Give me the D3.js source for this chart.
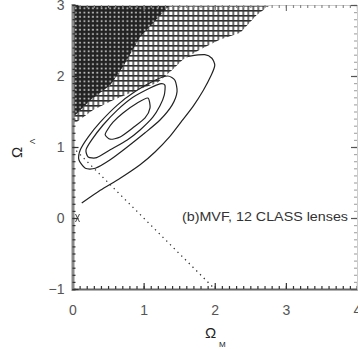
<!DOCTYPE html>
<html><head><meta charset="utf-8">
<script src="https://cdn.jsdelivr.net/npm/d3@7"></script>
<style>html,body{margin:0;padding:0;background:#fff;}svg{display:block;}</style>
</head><body>
<script>
// ---- data (Ω_M, Ω_Λ) ----
const xTicks = [0, 1, 2, 3, 4];
const yTicks = [-1, 0, 1, 2, 3];
const xTickLabels = ["0", "1", "2", "3", "4"];
const yTickLabels = ["\u22121", "0", "1", "2", "3"];
// excluded (no big bang) region boundary
const hatchBoundary = [[0,1.31],[0.29,1.52],[0.57,1.66],[0.81,1.76],[0.99,1.83],[1.19,1.90],[1.41,2.09],[1.55,2.23],[1.79,2.37],[2.07,2.51],[2.36,2.61],[2.59,2.86],[2.78,3.0]];
// darker, densely shaded part
const darkBoundary = [[0,1.41],[0.25,1.66],[0.53,1.87],[0.71,2.13],[0.95,2.55],[1.37,3.0]];
// likelihood contours
const contour1 = [[1.06,1.69],[0.91,1.62],[0.71,1.48],[0.57,1.35],[0.49,1.24],[0.46,1.17],[0.53,1.11],[0.67,1.14],[0.85,1.27],[1.02,1.41],[1.09,1.55]];
const contour2 = [[1.30,1.87],[1.29,1.73],[1.23,1.58],[1.13,1.42],[0.95,1.24],[0.77,1.10],[0.53,0.96],[0.34,0.85],[0.22,0.86],[0.19,0.96],[0.27,1.10],[0.43,1.31],[0.63,1.52],[0.85,1.70],[1.09,1.83],[1.23,1.89]];
const contour3 = [[1.44,1.94],[1.47,1.78],[1.40,1.59],[1.23,1.38],[1.02,1.20],[0.77,1.00],[0.53,0.82],[0.32,0.70],[0.18,0.70],[0.09,0.82],[0.11,0.96],[0.22,1.14],[0.39,1.35],[0.63,1.59],[0.88,1.78],[1.16,1.94],[1.34,2.00]];
const contourOuter = [[0.13,0.21],[0.39,0.39],[0.67,0.56],[0.95,0.75],[1.16,0.93],[1.37,1.15],[1.54,1.37],[1.70,1.58],[1.84,1.80],[1.95,2.01],[2.00,2.15],[1.96,2.25],[1.86,2.30],[1.65,2.28],[1.47,2.24],[1.23,2.12],[0.95,1.94],[0.74,1.80]];
const flatLine = [[0,1],[2,-1]];
const annotation = "(b)MVF, 12 CLASS lenses";

const W = 358, H = 349;
const svg = d3.select("body").append("svg").attr("width", W).attr("height", H);
const x = d3.scaleLinear().domain([0,4]).range([72.5,357]);
const y = d3.scaleLinear().domain([-1,3]).range([289,5]);
const line = d3.line().x(d=>x(d[0])).y(d=>y(d[1]));
const closed = d3.line().x(d=>x(d[0])).y(d=>y(d[1])).curve(d3.curveCardinalClosed.tension(0.3));
const open = d3.line().x(d=>x(d[0])).y(d=>y(d[1])).curve(d3.curveCardinal.tension(0.3));

const defs = svg.append("defs");
const pl = defs.append("pattern").attr("id","light").attr("patternUnits","userSpaceOnUse")
  .attr("width",5).attr("height",5).attr("x",x(0)).attr("y",y(3));
pl.append("rect").attr("width",5).attr("height",5).attr("fill","#fff");
pl.append("rect").attr("x",0).attr("y",0).attr("width",5).attr("height",1.6).attr("fill","#2a2a2a");
pl.append("rect").attr("x",0).attr("y",0).attr("width",1.5).attr("height",5).attr("fill","#3a3a3a");
const pd = defs.append("pattern").attr("id","dark").attr("patternUnits","userSpaceOnUse")
  .attr("width",4.3).attr("height",4.3).attr("x",x(0)).attr("y",y(3));
pd.append("rect").attr("width",4.3).attr("height",4.3).attr("fill","#222");
pd.append("rect").attr("x",2.4).attr("y",2.4).attr("width",1.7).attr("height",1.7).attr("fill","#ccc");
defs.append("clipPath").attr("id","plot").append("rect")
  .attr("x",x(0)).attr("y",y(3)).attr("width",x(4)-x(0)).attr("height",y(-1)-y(3));

const g = svg.append("g").attr("clip-path","url(#plot)");
// dotted flat-universe line
g.append("path").attr("d", line(flatLine)).attr("fill","none").attr("stroke","#333")
  .attr("stroke-width",1.3).attr("stroke-dasharray","1.3,4");
// outer open contour (beneath hatch)
g.append("path").attr("d", open(contourOuter)).attr("fill","none").attr("stroke","#222").attr("stroke-width",1.2);
// hatch regions
const hatchPoly = [[0,3]].concat(hatchBoundary);
g.append("path").attr("d", line(hatchPoly)+"Z").attr("fill","url(#light)");
const darkPoly = [[0,3]].concat(darkBoundary);
g.append("path").attr("d", line(darkPoly)+"Z").attr("fill","url(#dark)");
// closed contours
[contour3, contour2, contour1].forEach(c=>{
  g.append("path").attr("d", closed(c)).attr("fill","none").attr("stroke","#222").attr("stroke-width",1.2);
});
// small mark at origin
g.append("path").attr("d", `M${x(0)+3},${y(0)-4}L${x(0)+7},${y(0)+4}M${x(0)+7},${y(0)-4}L${x(0)+3},${y(0)+4}`)
  .attr("stroke","#444").attr("stroke-width",1);

// axes
const font = "Liberation Sans, Arial, sans-serif";
function styleAxis(sel, col, w){
  sel.select(".domain").attr("stroke",col).attr("stroke-width",w);
  sel.selectAll(".tick line").attr("stroke","#333").attr("stroke-width",1.2);
  sel.selectAll("text").attr("fill","#555").style("font-family",font).style("font-size","14px");
}
const minorX = d3.range(0,4.0001,0.1), minorY = d3.range(-1,3.0001,0.1);
// bottom
const bMin = svg.append("g").attr("transform",`translate(0,${y(-1)})`)
  .call(d3.axisBottom(x).tickValues(minorX).tickSize(-3).tickFormat(""));
styleAxis(bMin,"#666",2);
const bMaj = svg.append("g").attr("transform",`translate(0,${y(-1)})`)
  .call(d3.axisBottom(x).tickValues(xTicks).tickSize(-6).tickPadding(16).tickFormat((d,i)=>xTickLabels[i]));
styleAxis(bMaj,"none",0);
// top
const tMin = svg.append("g").attr("transform",`translate(0,${y(3)})`)
  .call(d3.axisTop(x).tickValues(minorX).tickSize(-3).tickFormat(""));
styleAxis(tMin,"#ccc",1);
tMin.selectAll(".tick line").attr("stroke","#888");
const tMaj = svg.append("g").attr("transform",`translate(0,${y(3)})`)
  .call(d3.axisTop(x).tickValues(xTicks).tickSize(-6).tickFormat(""));
styleAxis(tMaj,"none",0);
tMaj.selectAll(".tick line").attr("stroke","#777");
// right
const rMin = svg.append("g").attr("transform",`translate(${x(4)},0)`)
  .call(d3.axisRight(y).tickValues(minorY).tickSize(-3).tickFormat(""));
styleAxis(rMin,"#ccc",1);
rMin.selectAll(".tick line").attr("stroke","#aaa");
const rMaj = svg.append("g").attr("transform",`translate(${x(4)},0)`)
  .call(d3.axisRight(y).tickValues(yTicks).tickSize(-6).tickFormat(""));
styleAxis(rMaj,"none",0);
rMaj.selectAll(".tick line").attr("stroke","#555");
// left
const lMin = svg.append("g").attr("transform",`translate(${x(0)},0)`)
  .call(d3.axisLeft(y).tickValues(minorY).tickSize(-3).tickFormat(""));
styleAxis(lMin,"#888",3);
const lMaj = svg.append("g").attr("transform",`translate(${x(0)},0)`)
  .call(d3.axisLeft(y).tickValues(yTicks).tickSize(-6).tickPadding(8).tickFormat((d,i)=>yTickLabels[i]));
styleAxis(lMaj,"none",0);

// annotation
svg.append("text").attr("x",182).attr("y",221).attr("textLength",166).attr("lengthAdjust","spacingAndGlyphs")
  .attr("fill","#333").style("font-family",font).style("font-size","13px").text(annotation);

// axis titles
svg.append("text").attr("x",205).attr("y",338).attr("fill","#222").style("font-family",font).style("font-size","15px").text("\u03A9");
svg.append("text").attr("x",219).attr("y",347).attr("fill","#222").style("font-family",font).style("font-size","8px").text("M");
svg.append("text").attr("transform","translate(22,158) rotate(-90)").attr("fill","#222").style("font-family",font).style("font-size","15px").text("\u03A9");
svg.append("text").attr("transform","translate(35,144) rotate(-90)").attr("fill","#222").style("font-family",font).style("font-size","8px").text("\u039B");
</script>
</body></html>
